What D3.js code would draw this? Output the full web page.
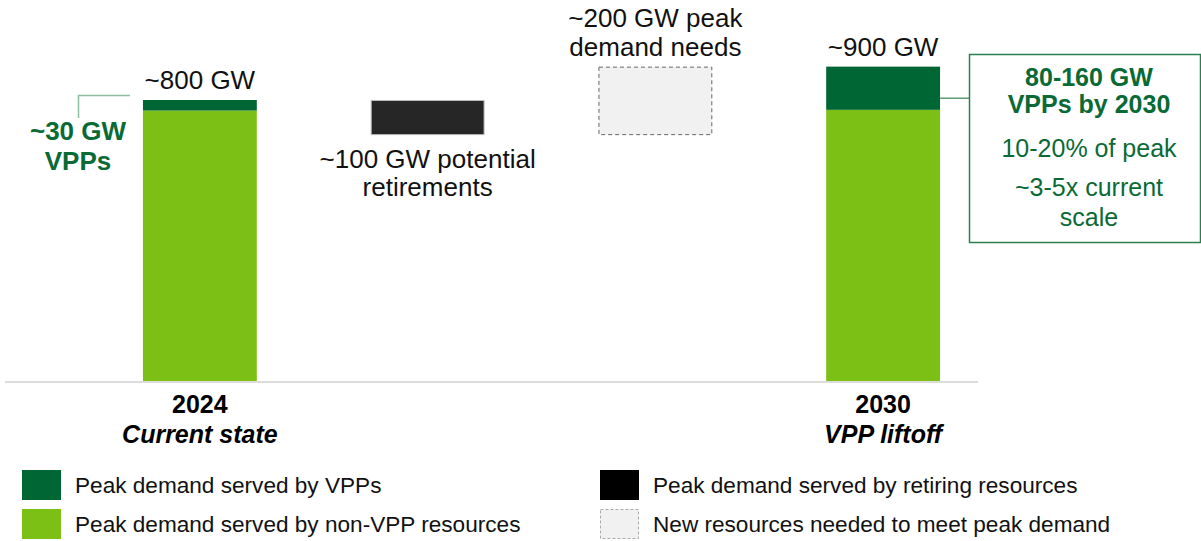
<!DOCTYPE html>
<html>
<head>
<meta charset="utf-8">
<script src="https://cdn.jsdelivr.net/npm/d3@7"></script>
<style>
  html, body { margin: 0; padding: 0; background: #fff; }
  svg { display: block; font-family: "Liberation Sans", Arial, sans-serif; }
</style>
</head>
<body>
<div class="chart"></div>
<script>
// chart values (GW)
var categories = ['2024', 'Retirements', 'New needs', '2030'];
var nonVppGW = [770, null, null, 772];
var vppGW = [30, null, null, 123];
var floatLowGW = [null, 700, 700, null];
var floatHighGW = [null, 800, 895, null];

var yearLabels = ['2024', '', '', '2030'];
var stageLabels = ['Current state', '', '', 'VPP liftoff'];
var topLabels = ['~800 GW', '', '~200 GW peak|demand needs', '~900 GW'];
var belowLabels = ['', '~100 GW potential|retirements', '', ''];

var legendLabels = [
  'Peak demand served by VPPs',
  'Peak demand served by non-VPP resources',
  'Peak demand served by retiring resources',
  'New resources needed to meet peak demand'
];

var darkGreen = '#006633';
var lightGreen = '#7cc016';
var textGreen = '#0a6a36';

var width = 1201, height = 541;
var baseY = 381;

var svg = d3.select('.chart').append('svg')
    .attr('width', width)
    .attr('height', height);

var x = d3.scaleBand().domain(categories).range([86, 997]).paddingInner(0.5).paddingOuter(0.25);
var y = d3.scaleLinear().domain([0, 800]).range([baseY, 100]);

// baseline
svg.append('line')
    .attr('x1', 5).attr('x2', 978)
    .attr('y1', baseY + 1).attr('y2', baseY + 1)
    .attr('stroke', '#dcdcdc').attr('stroke-width', 2);

// stacked bars
var stacked = categories.map(function(c, i) { return { cat: c, non: nonVppGW[i], vpp: vppGW[i] }; })
    .filter(function(d) { return d.non != null; });

svg.selectAll('rect.nonvpp')
    .data(stacked)
  .enter().append('rect')
    .attr('class', 'nonvpp')
    .attr('x', function(d) { return x(d.cat); })
    .attr('width', x.bandwidth())
    .attr('y', function(d) { return y(d.non); })
    .attr('height', function(d) { return y(0) - y(d.non); })
    .attr('fill', lightGreen);

svg.selectAll('rect.vpp')
    .data(stacked)
  .enter().append('rect')
    .attr('class', 'vpp')
    .attr('x', function(d) { return x(d.cat); })
    .attr('width', x.bandwidth())
    .attr('y', function(d) { return y(d.non + d.vpp); })
    .attr('height', function(d) { return y(d.non) - y(d.non + d.vpp); })
    .attr('fill', darkGreen);

// floating bars
var floating = categories.map(function(c, i) { return { cat: c, lo: floatLowGW[i], hi: floatHighGW[i], i: i }; })
    .filter(function(d) { return d.lo != null; });

svg.selectAll('rect.float')
    .data(floating)
  .enter().append('rect')
    .attr('class', 'float')
    .attr('x', function(d) { return x(d.cat) + 0.5; })
    .attr('width', x.bandwidth() - 1)
    .attr('y', function(d) { return y(d.hi) + 0.5; })
    .attr('height', function(d) { return y(d.lo) - y(d.hi) - 1; })
    .attr('fill', function(d) { return d.i == 1 ? '#262626' : '#f1f1f1'; })
    .attr('stroke', function(d) { return d.i == 1 ? '#bbb' : '#666'; })
    .attr('stroke-width', 1)
    .attr('stroke-dasharray', function(d) { return d.i == 1 ? null : '4,3'; });

// value labels above bars
var barTop = function(i) {
  if (nonVppGW[i] != null) return y(nonVppGW[i] + vppGW[i]);
  return y(floatHighGW[i]);
};
var barBottom = function(i) { return y(floatLowGW[i]); };

categories.forEach(function(c, i) {
  if (topLabels[i]) {
    var lines = topLabels[i].split('|');
    var t = svg.append('text')
        .attr('text-anchor', 'middle')
        .attr('font-size', 26)
        .attr('fill', '#111');
    lines.forEach(function(l, k) {
      t.append('tspan')
          .attr('x', x(c) + x.bandwidth() / 2)
          .attr('y', barTop(i) - 11 - (lines.length - 1 - k) * 29)
          .text(l);
    });
  }
  if (belowLabels[i]) {
    var lines2 = belowLabels[i].split('|');
    var t2 = svg.append('text')
        .attr('text-anchor', 'middle')
        .attr('font-size', 26)
        .attr('fill', '#111');
    lines2.forEach(function(l, k) {
      t2.append('tspan')
          .attr('x', x(c) + x.bandwidth() / 2)
          .attr('y', barBottom(i) + 33 + k * 28)
          .text(l);
    });
  }
  if (yearLabels[i]) {
    svg.append('text')
        .attr('x', x(c) + x.bandwidth() / 2)
        .attr('y', 413)
        .attr('text-anchor', 'middle')
        .attr('font-size', 25)
        .attr('font-weight', 'bold')
        .attr('fill', '#000')
        .text(yearLabels[i]);
    svg.append('text')
        .attr('x', x(c) + x.bandwidth() / 2)
        .attr('y', 443)
        .attr('text-anchor', 'middle')
        .attr('font-size', 25)
        .attr('font-weight', 'bold')
        .attr('font-style', 'italic')
        .attr('fill', '#000')
        .text(stageLabels[i]);
  }
});

// 2024 VPP callout
var x24 = x('2024');
svg.append('path')
    .attr('d', 'M' + (x24 - 13) + ',' + 95.5 + 'H78.5V118')
    .attr('fill', 'none')
    .attr('stroke', '#8cbf9f')
    .attr('stroke-width', 1.5);
svg.append('text')
    .attr('text-anchor', 'middle')
    .attr('font-size', 26)
    .attr('font-weight', 'bold')
    .attr('fill', textGreen)
    .selectAll('tspan')
    .data(['~30 GW', 'VPPs'])
  .enter().append('tspan')
    .attr('x', 78)
    .attr('y', function(d, i) { return 140 + i * 30; })
    .text(function(d) { return d; });

// 2030 VPP callout box
var x30 = x('2030') + x.bandwidth();
var midVpp = (y(nonVppGW[3]) + y(nonVppGW[3] + vppGW[3])) / 2;
svg.append('line')
    .attr('x1', x30).attr('x2', 969)
    .attr('y1', midVpp + 10).attr('y2', midVpp + 10)
    .attr('stroke', '#5e9c75').attr('stroke-width', 1.5);
svg.append('rect')
    .attr('x', 969.5).attr('y', 54.5)
    .attr('width', 231).attr('height', 188)
    .attr('fill', '#fff')
    .attr('stroke', '#2b8050')
    .attr('stroke-width', 1.5);

var boxLines = [
  { t: '80-160 GW', b: true, y: 86 },
  { t: 'VPPs by 2030', b: true, y: 113 },
  { t: '10-20% of peak', b: false, y: 157 },
  { t: '~3-5x current', b: false, y: 196 },
  { t: 'scale', b: false, y: 226 }
];
svg.selectAll('text.box')
    .data(boxLines)
  .enter().append('text')
    .attr('class', 'box')
    .attr('x', 1089)
    .attr('y', function(d) { return d.y; })
    .attr('text-anchor', 'middle')
    .attr('font-size', 25)
    .attr('font-weight', function(d) { return d.b ? 'bold' : 'normal'; })
    .attr('fill', textGreen)
    .text(function(d) { return d.t; });

// legend
var legendFill = [darkGreen, lightGreen, '#000', '#f1f1f1'];
var legend = svg.selectAll('g.legend')
    .data(legendLabels)
  .enter().append('g')
    .attr('class', 'legend')
    .attr('transform', function(d, i) {
      return 'translate(' + (i < 2 ? 22 : 600) + ',' + (470 + (i % 2) * 39) + ')';
    });

legend.append('rect')
    .attr('x', function(d, i) { return i == 3 ? 0.5 : 0; })
    .attr('y', function(d, i) { return i == 3 ? 0.5 : 0; })
    .attr('width', function(d, i) { return i == 3 ? 38 : 39; })
    .attr('height', function(d, i) { return i == 3 ? 29 : 30; })
    .attr('fill', function(d, i) { return legendFill[i]; })
    .attr('stroke', function(d, i) { return i == 3 ? '#aaa' : null; })
    .attr('stroke-dasharray', function(d, i) { return i == 3 ? '3,2' : null; });

legend.append('text')
    .attr('x', 53)
    .attr('y', 23)
    .attr('font-size', 22.6)
    .attr('fill', '#111')
    .text(function(d) { return d; });
</script>
</body>
</html>
